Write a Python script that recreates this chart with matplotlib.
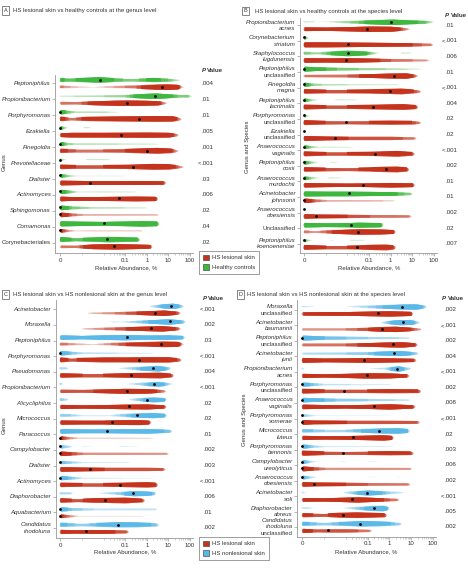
import numpy as np
import matplotlib
matplotlib.use("Agg")
import matplotlib.pyplot as plt
from matplotlib.patches import Patch
from matplotlib.transforms import blended_transform_factory

plt.rcParams["font.family"] = ["Liberation Sans", "DejaVu Sans"]

# violin outlines: (log10 relative abundance %, relative width); -4 is the "0" position
# A: HS lesional vs healthy controls, genus
a_taxa = ["Peptoniphilus", "Propionibacterium", "Porphyromonas", "Ezakiella", "Finegoldia",
          "Prevotellaceae", "Dialister", "Actinomyces", "Sphingomonas", "Comamonas",
          "Corynebacteriales"]
a_pvals = [".004", ".01", ".01", ".005", ".001", "<.001", ".03", ".006", ".02", ".04", ".02"]
a_healthy = [
    [(-4, .6), (-3.6, .4), (-3.0, .6), (-2.2, 1.0), (-1.5, .5), (-0.7, .3), (0.3, .6), (1.0, .4), (1.45, .1)],
    [(-4, .1), (-2.5, .15), (-1.0, .3), (-0.3, .7), (0.4, 1.0), (1.0, .6), (1.6, .3), (1.9, .35), (2.0, .1)],
    [(-4, .8), (-3.7, .4), (-3.3, .15), (-2.0, .15), (-1.4, .05)],
    [(-4, .6), (-3.8, .2), (-3.65, 0), (-2.95, 0), (-2.85, .12), (-2.65, .08), (-2.6, 0)],
    [(-4, .7), (-3.7, .3), (-3.3, .15), (0, .1), (0.45, .05)],
    [(-4, .35), (-3.85, .1), (-3.7, 0), (-2.85, 0), (-2.75, .1), (-1.8, .1), (-1.7, 0)],
    [(-4, .6), (-3.6, .2), (-3.3, .05), (-2.3, .05), (-1.2, .05), (-0.9, 0)],
    [(-4, .7), (-3.5, .3), (-3.2, .05), (-2.0, .1), (-0.55, .05)],
    [(-4, .8), (-3.5, .4), (-2.5, .15), (-0.12, .1)],
    [(-4, .9), (-3.0, .7), (-2.0, .6), (-1.0, .8), (-0.2, 1.0), (0.45, .8)],
    [(-4, .8), (-3.3, .4), (-2.3, .7), (-1.8, .9), (-1.0, .7), (-0.43, .6)],
]
a_healthy_median = [-2.17, 0.4, -4, -4, -4, -4, -4, -4, -4, -1.97, -1.82]
a_lesional = [
    [(-4, .35), (-3.4, .15), (-2.5, .02), (-1.8, .15), (-0.5, .4), (0.3, .8), (0.9, 1.0), (1.4, .8), (1.6, .2)],
    [(-4, .4), (-3.3, .3), (-2.5, .6), (-1.5, .9), (-0.9, 1.0), (-0.2, .9), (0.5, .7), (0.83, .2)],
    [(-4, .7), (-3.5, .3), (-2.8, .6), (-1.5, .8), (-0.5, .9), (0.5, 1.0), (1.2, .9), (1.5, .3)],
    [(-4, .6), (-3.5, .8), (-2, .8), (-1, .85), (0, .9), (1, .8), (1.37, .3)],
    [(-4, .6), (-3.3, .4), (-2, .4), (-1, .5), (-0.2, .8), (0.5, 1.0), (1.1, .7), (1.37, .2)],
    [(-4, .7), (-3.3, .5), (-2, .5), (-1, .6), (-0.3, .8), (0.3, 1.0), (1.0, .9), (1.6, .2)],
    [(-4, .8), (-3.3, .7), (-2.6, .6), (-1.5, .6), (0, .6), (0.78, .5)],
    [(-4, .8), (-3.5, .6), (-2.5, .6), (-1.5, .7), (-0.5, .8), (0.4, .7)],
    [(-4, .8), (-3.5, .4), (-3.0, .2), (0.45, .15)],
    [(-4, .6), (-3.6, .2), (-3.3, .05), (-2.6, .1), (-0.3, .1)],
    [(-4, .35), (-3.3, .3), (-2.5, .8), (-1.5, 1.0), (-0.6, .8), (0.14, .6)],
]
a_lesional_median = [0.7, -0.9, -0.35, -1.2, 0.0, -0.63, -2.63, -1.28, -4, -4, -1.5]

# B: HS lesional vs healthy controls, species
b_taxa = ["Propionibacterium\nacnes", "Corynebacterium\nstriatum", "Staphylococcus\nlugdunensis",
          "Peptoniphilus\nunclassified", "Finegoldia\nmagna", "Peptoniphilus\nlacrimalis",
          "Porphyromonas\nunclassified", "Ezakiella\nunclassified", "Anaerococcus\nvaginalis",
          "Peptoniphilus\ncoxii", "Anaerococcus\nmurdochii", "Acinetobacter\njohnsonii",
          "Anaerococcus\nobesiensis", "Unclassified", "Peptoniphilus\nkoenoeneniae"]
b_pvals = [".01", "<.001", ".006", ".01", "<.001", ".004", ".02", ".02", "<.001", ".002",
           ".01", ".01", ".002", ".02", ".007"]
b_healthy = [
    [(-4, .12), (-3.6, .1), (-3.45, 0), (-2.9, .05), (-1.5, .4), (-0.5, .8), (0.1, 1.0), (0.9, .6), (1.6, .4), (1.92, .1)],
    [(-4, .6), (-3.85, .1), (-3.75, 0)],
    [(-4, .4), (-3.4, .2), (-2.8, .5), (-2, 1.0), (-1.2, .6), (-0.6, .05), (-0.5, 0), (0.45, 0), (0.5, .1), (0.9, .08)],
    [(-4, .9), (-3.5, .6), (-2.5, .4), (-1, .25), (0.5, .15), (1.3, .05)],
    [(-4, .7), (-3.6, .3), (-3, .15), (0.3, .05)],
    [(-4, .6), (-3.6, .15), (-3.3, 0), (-2.6, 0), (-2.5, .08), (-1.6, .05)],
    [(-4, .5), (-3.85, .1), (-3.7, 0)],
    [],
    [(-4, .6), (-3.6, .2), (-3.3, .05), (-3.1, .08), (-1.85, .05)],
    [(-4, .6), (-3.6, .2), (-3.3, 0), (-2.8, 0), (-2.75, .08), (-2.5, .05)],
    [(-4, .6), (-3.6, .2), (-3.3, 0), (-2.9, 0), (-2.85, .1), (-2.3, .05)],
    [(-4, .9), (-3, .8), (-2, .8), (-1, .7), (0, .6), (0.9, .3)],
    [],
    [(-4, .8), (-3, .6), (-2, .7), (-1.5, .9), (-1, .8), (-0.46, .7)],
    [(-4, .5), (-3.8, .15), (-3.6, 0), (-2.8, 0), (-2.75, .06), (-2.55, 0), (-1.9, 0), (-1.85, .08), (-1.25, .05)],
]
b_healthy_median = [0.0, -4, -1.97, -4, -4, -4, -4, -4, -4, -4, -4, -1.92, -4, -1.82, -4]
b_lesional = [
    [(-4, .6), (-3, .5), (-2, .7), (-1, 1.0), (0, .9), (0.77, .2)],
    [(-4, .9), (-3, .9), (-2, .8), (-1, .7), (0, .6), (1, .5), (1.85, .3)],
    [(-4, .8), (-3, .7), (-2, .8), (-1, .6), (0, .4), (1, .3), (1.66, .2)],
    [(-4, .3), (-3, .35), (-2, .4), (-1, .6), (0, .9), (0.7, 1.0), (1.15, .3)],
    [(-4, .7), (-3, .5), (-2, .5), (-1, .6), (-0.3, .8), (0.5, 1.0), (1.3, .3)],
    [(-4, .8), (-3, .5), (-2, .5), (-1, .7), (0, .9), (0.6, 1.0), (1.15, .6)],
    [(-4, .8), (-3, .5), (-2, .4), (-1, .5), (0, .6), (1, .5), (1.3, .3)],
    [(-4, .9), (-3, .6), (-2, .5), (-1, .5), (0, .5), (1.08, .3)],
    [(-4, .8), (-3, .5), (-2, .5), (-1, .6), (-0.3, .8), (0.3, 1.0), (1.0, .5)],
    [(-4, .7), (-3, .5), (-2, .4), (-1, .6), (-0.3, .9), (0.3, 1.0), (0.74, .6)],
    [(-4, .8), (-3, .6), (-2, .5), (-1, .6), (0, .8), (1, .6)],
    [(-4, .8), (-3.5, .4), (-3, .2), (-1, .15), (0.08, .1)],
    [(-4, .8), (-3.4, .6), (-2, .5), (-1, .4), (0, .4), (0.85, .3)],
    [(-4, .4), (-3.5, .2), (-2.5, .6), (-1.5, 1.0), (-0.5, .9), (0.12, .6)],
    [(-4, .8), (-3, .5), (-2, .5), (-1.5, .6), (-0.8, .9), (-0.2, 1.0), (0.12, .6)],
]
b_lesional_median = [-1.08, -1.97, -2.05, 0.15, -0.05, -0.82, -2.08, -2.58, -0.74, -0.23,
                     -1.28, -4, -3.46, -1.5, -1.55]

# C: HS lesional vs HS nonlesional, genus
c_taxa = ["Acinetobacter", "Moraxella", "Peptoniphilus", "Porphyromonas", "Pseudomonas",
          "Propionibacterium", "Alicycliphilus", "Micrococcus", "Paracoccus", "Campylobacter",
          "Dialister", "Actinomyces", "Diaphorobacter", "Aquabacterium", "Candidatus\nrhodoluna"]
c_pvals = ["<.001", ".002", ".03", "<.001", ".004", "<.001", ".02", ".02", ".01", ".002",
           ".003", "<.001", ".006", ".01", ".002"]
c_nonlesional = [
    [(0.14, .1), (0.5, .4), (0.9, .8), (1.2, 1.0), (1.6, .3)],
    [(-1.65, .1), (-1.2, .05), (-0.5, .3), (0.3, .6), (1.0, 1.0), (1.68, .4)],
    [(-4, .8), (-3, .5), (-2, .8), (-1, 1.0), (0, .7), (1, .8), (1.65, .5)],
    [(-4, .8), (-3.5, .4), (-3, .2), (-1, .1), (0.26, .05)],
    [(-4, .3), (-3.7, .2), (-3.6, 0), (-1.3, 0), (-1.25, .05), (-0.5, .4), (0, .7), (0.5, 1.0), (1.03, .3)],
    [(-4, .3), (-3.85, 0), (-0.9, 0), (-0.86, .05), (-0.3, .3), (0.2, .6), (0.5, .8), (0.8, .5), (1.14, .1)],
    [(-4, .4), (-3.7, .2), (-3.6, 0), (-0.8, 0), (-0.78, .1), (-0.2, .5), (0.3, .8), (0.83, .5)],
    [(-4, .4), (-3.5, .3), (-3, .1), (-1.7, .1), (-1, .4), (-0.3, .7), (0.3, .9), (0.83, .5)],
    [(-4, .8), (-3, .6), (-2, .6), (-1, .7), (0, .8), (1.06, .4)],
    [(-4, .5), (-3.6, .2), (-3.4, 0), (-3.0, 0), (-2.95, .06), (-2.4, 0), (-1.3, 0), (-1.25, .06), (-0.5, .04)],
    [(-4, .5), (-3.5, .3), (-3, .1), (-0.86, .05)],
    [(-4, .7), (-3.5, .4), (-3, .1), (-1.2, .05), (0.2, .05)],
    [(-4, .3), (-3.5, .2), (-3.4, 0), (-2.2, 0), (-2.17, .05), (-1.2, .4), (-0.6, .9), (0, .7), (0.34, .4)],
    [(-4, .7), (-3.5, .4), (-2.5, .2), (-1, .2), (0.37, .2)],
    [(-4, .6), (-3, .3), (-2, .6), (-1.3, .9), (-0.5, .8), (0.45, .4)],
]
c_nonlesional_median = [1.14, 1.06, -0.9, -4, 0.29, 0.34, 0.03, -0.43, -1.86, -4, -4, -4,
                        -0.63, -4, -1.35]
c_lesional = [
    [(-2.7, .1), (-1.5, .3), (-0.5, .5), (0.3, .8), (0.8, 1.0), (1.45, .4)],
    [(-2.97, .1), (-2, .3), (-1, .5), (0, .8), (0.7, 1.0), (1.45, .4)],
    [(-4, .4), (-3.3, .2), (-2.5, .05), (-2, .2), (-1, .5), (0, .7), (0.7, 1.0), (1.4, .9), (1.6, .3)],
    [(-4, .8), (-3.5, .4), (-3, .6), (-2, .8), (-1, .8), (0, .9), (1, .9), (1.5, .4)],
    [(-4, .7), (-3, .5), (-2, .5), (-1, .7), (0, .9), (0.6, 1.0), (1.14, .5)],
    [(-4, .5), (-3, .4), (-2, .6), (-1, .9), (0, .8), (0.78, .3)],
    [(-4, .7), (-3, .5), (-2, .6), (-1, .8), (0, .9), (0.8, .5)],
    [(-4, .7), (-3, .6), (-2, .6), (-1.5, .8), (-0.8, .9), (-0.3, .9), (0.09, .6)],
    [(-4, .6), (-3.6, .3), (-3.2, .1), (-1, .1), (0.2, .05)],
    [(-4, .8), (-3.5, .5), (-3, .3), (-1, .3), (0.9, .25)],
    [(-4, .8), (-3, .6), (-2, .5), (-1, .5), (0, .5), (0.75, .4)],
    [(-4, .7), (-3, .5), (-2, .5), (-1, .7), (0, .9), (0.4, .7)],
    [(-4, .7), (-3.2, .4), (-2.5, .7), (-1.9, .8), (-1, 1.0), (-0.2, .5)],
    [(-4, .6), (-3.6, .3), (-3.2, .05), (-2.3, .05), (-0.25, .05)],
    [(-4, .7), (-3.3, .5), (-2.8, .6), (-2, .6), (-0.94, .4)],
]
c_lesional_median = [0.37, 0.18, 0.68, -0.37, -0.75, -0.92, -0.82, -1.63, -4, -4, -2.63,
                     -1.25, -1.94, -4, -2.82]

# D: HS lesional vs HS nonlesional, species
d_taxa = ["Moraxella\nunclassified", "Acinetobacter\nbaumannii", "Peptoniphilus\nunclassified",
          "Acinetobacter\njunii", "Propionibacterium\nacnes", "Porphyromonas\nunclassified",
          "Anaerococcus\nvaginalis", "Porphyromonas\nsomerae", "Micrococcus\nluteus",
          "Porphyromonas\nbennonis", "Campylobacter\nureolyticus", "Anaerococcus\nobesiensis",
          "Acinetobacter\nsoli", "Diaphorobacter\nabreus", "Candidatus\nrhodoluna\nunclassified"]
d_pvals = [".002", "<.001", ".002", ".004", "<.001", ".002", ".008", "<.001", ".02", ".003",
           ".006", ".002", "<.001", ".005", ".002"]
d_nonlesional = [
    [(-4, .15), (-3.5, .05), (-3.4, 0), (-1.95, 0), (-1.92, .05), (-1, .3), (0, .6), (0.6, .9), (1.2, 1.0), (1.62, .3)],
    [(-0.38, .1), (0, .5), (0.5, 1.0), (1, .8), (1.3, .2)],
    [(-4, .9), (-3.5, .7), (-3, .5), (-2, .4), (-1, .3), (0, .25), (0.85, .15)],
    [(-4, .2), (-3, .25), (-2, .3), (-1, .4), (0, .8), (0.5, .9), (1.23, .3)],
    [(-4, .2), (-3.9, 0), (-0.9, 0), (-0.85, .05), (-0.2, .2), (0.2, .7), (0.4, 1.0), (0.7, .4), (0.92, .2)],
    [(-4, .7), (-3.5, .4), (-3, .15), (-1, .1), (0, .05)],
    [(-4, .8), (-3.5, .6), (-2.5, .4), (-1, .3), (0.85, .15)],
    [(-4, .4), (-3.7, .2), (-3.4, .05), (-1, .05), (0, .02)],
    [(-4, .5), (-3, .3), (-2, .3), (-1, .6), (-0.3, .9), (0.4, 1.0), (0.82, .6)],
    [(-4, .7), (-3.5, .3), (-3, .1), (0.08, .05)],
    [(-4, .6), (-3.6, .2), (-3.3, 0), (-2.3, 0), (-2.2, .06), (-1.9, 0), (-1.0, 0), (-0.9, .05), (-0.4, 0)],
    [(-4, .6), (-3.6, .2), (-3.3, 0), (-1.0, 0), (-0.9, .05), (-0.5, 0), (0.3, 0), (0.35, .05), (0.5, 0)],
    [(-4, .2), (-3.8, 0), (-2.1, 0), (-2.08, .1), (-1.5, .5), (-1, .9), (-0.5, .6), (0, .3), (0.6, .1)],
    [(-4, .2), (-3.6, .1), (-3.5, 0), (-2.1, 0), (-2.08, .05), (-1.2, .5), (-0.7, .9), (-0.3, 1.0), (-0.1, .5)],
    [(-4, .6), (-3, .3), (-2, .6), (-1.3, 1.0), (-0.5, .8), (0.46, .3)],
]
d_nonlesional_median = [0.58, 0.62, -4, 0.2, 0.34, -4, -4, -4, -0.46, -4, -4, -4, -1.03, -0.7, -1.35]
d_lesional = [
    [(-4, .5), (-3, .6), (-2, .6), (-1, .8), (0, 1.0), (0.97, .7)],
    [(-4, .3), (-3, .3), (-2, .3), (-1, .5), (-0.3, .9), (0.3, 1.0), (1, .5), (1.38, .2)],
    [(-4, .4), (-3, .4), (-2, .4), (-1, .6), (0, .9), (0.6, 1.0), (1.18, .5)],
    [(-4, .9), (-3, .6), (-2, .7), (-1, .9), (0, .7), (1.12, .5)],
    [(-4, .7), (-3, .5), (-2, .7), (-1, 1.0), (0, .9), (0.8, .5)],
    [(-4, .8), (-3, .5), (-2, .5), (-1, .5), (0, .6), (1.34, .5)],
    [(-4, .8), (-3, .6), (-2, .5), (-1, .7), (0, 1.0), (1.08, .5)],
    [(-4, .9), (-3.5, .6), (-2, .5), (0, .5), (1.28, .4)],
    [(-4, .7), (-3, .5), (-2, .6), (-1, .8), (-0.3, 1.0), (0.08, .7)],
    [(-4, .9), (-3, .5), (-2, .4), (-1, .5), (0, .6), (1, .5)],
    [(-4, .9), (-3.5, .5), (-3, .3), (-1, .3), (0.92, .25)],
    [(-4, .8), (-3.4, .6), (-2, .5), (-1, .4), (0.85, .3)],
    [(-4, .6), (-3, .5), (-2, .8), (-1.5, 1.0), (-0.8, .7), (0, .4), (0.34, .3)],
    [(-4, .6), (-3, .4), (-2.3, .8), (-1.5, 1.0), (-0.8, .8), (-0.23, .6)],
    [(-4, .7), (-3.3, .4), (-2.8, .5), (-2, .5), (-0.92, .3)],
]
d_lesional_median = [-0.54, -0.35, 0.17, -1.15, -1.05, -2.1, -0.72, -4, -1.65, -2.15, -4,
                     -3.46, -1.72, -2.15, -2.82]

RED = "#c5331c"
GREEN = "#3db73d"
BLUE = "#5bb9e9"
TXT = "#333333"
W, H = 468, 570
FS = 4.4

fig = plt.figure(figsize=(W / 100, H / 100), dpi=100)

LEVELS = [0.0, 0.05, 0.12, 0.2, 0.3, 0.4, 0.5]


def alpha_of(w):
    return min(1.0, 0.2 + 0.8 * w / 0.5)


def draw_violin(ax, knots, yc, color, hmax=0.17):
    if not knots:
        return
    xs = [knots[0][0] - 0.05] + [k[0] for k in knots] + [knots[-1][0] + 0.1]
    ws = [0] + [k[1] for k in knots] + [0]
    grid = np.arange(xs[0], xs[-1] + 1e-9, 0.01)
    w = np.interp(grid, xs, ws)
    k = 7
    w = np.convolve(np.pad(w, k // 2, mode="edge"), np.ones(k) / k, mode="valid")
    h = hmax * np.power(np.clip(w, 0, None), 0.7)
    x = 10 ** grid
    prev = 0.0
    for lv in LEVELS:
        target = alpha_of(lv)
        a = 1 - (1 - target) / (1 - prev) if prev < 1 else 0
        mask = w > max(lv, 0.004)
        if mask.any() and a > 0:
            ax.fill_between(x, yc - h, yc + h, where=mask, color=color, alpha=a, lw=0)
        prev = target


def px_ax(left, top, right, bottom, x0, x100, r0, step, n):
    ax = fig.add_axes([left / W, 1 - bottom / H, (right - left) / W, (bottom - top) / H])
    dec = (x100 - x0) / 6
    ax.set_xscale("log")
    ax.set_xlim(10 ** (-4 - (x0 - left) / dec), 10 ** (2 + (right - x100) / dec))
    ax.set_ylim((bottom - r0) / step, (top - r0) / step)
    for s in ["top", "right"]:
        ax.spines[s].set_visible(False)
    for s in ["left", "bottom"]:
        ax.spines[s].set_color("#999999")
        ax.spines[s].set_linewidth(0.6)
    ax.set_xticks([1e-4, 0.1, 1, 10, 100], ["0", "0.1", "1", "10", "100"])
    minor = [1e-3, 1e-2] + [m * 10.0 ** e for e in range(-2, 2) for m in range(2, 10)]
    ax.set_xticks(minor, minor=True)
    ax.set_xticklabels([], minor=True)
    ax.set_yticks(range(n))
    ax.set_yticklabels([])
    ax.tick_params(axis="x", which="major", length=2, width=0.5, color="#999999",
                   labelsize=FS, labelcolor=TXT, pad=1.2)
    ax.tick_params(axis="x", which="minor", length=1.2, width=0.4, color="#aaaaaa")
    ax.tick_params(axis="y", length=2, width=0.5, color="#999999")
    ax.patch.set_visible(False)
    return ax


def panel(ax, taxa, top_v, top_m, bot_v, bot_m, top_col, pvals, p_dot_px):
    for i in range(len(taxa)):
        draw_violin(ax, top_v[i], i - 0.22, top_col)
        draw_violin(ax, bot_v[i], i + 0.22, RED)
        ax.plot(10 ** top_m[i], i - 0.22, "o", ms=2.0, color="black", mec="none", zorder=5)
        ax.plot(10 ** bot_m[i], i + 0.22, "o", ms=2.0, color="black", mec="none", zorder=5)
        lines = taxa[i].split("\n")
        n = len(lines)
        for k, line in enumerate(lines):
            upright = line.lower() == "unclassified" or line == "Corynebacteriales"
            ax.annotate(line, xy=(0, i), xycoords=ax.get_yaxis_transform(),
                        xytext=(-3.2, -(k - (n - 1) / 2) * 4.6), textcoords="offset points",
                        ha="right", va="center", fontsize=FS, color=TXT,
                        style="normal" if upright else "italic")
        tr = blended_transform_factory(fig.transFigure, ax.transData)
        p = pvals[i]
        if p.startswith("<"):
            ax.text(p_dot_px / W, i, "<", transform=tr, ha="right", va="center",
                    fontsize=FS, color=TXT)
            p = p[1:]
        ax.text(p_dot_px / W, i, p, transform=tr, ha="left", va="center",
                fontsize=FS, color=TXT)


def ftext(x, y, s, **kw):
    kw.setdefault("fontsize", FS)
    kw.setdefault("color", TXT)
    return fig.text(x / W, 1 - y / H, s, **kw)


def header(letter, x_box, x_txt, y, title, x_p, y_p, x_lab, y_lab, x_ylab, y_ylab, ylab):
    ftext(x_box, y, letter, ha="center", va="center", fontsize=4.0,
          bbox=dict(boxstyle="square,pad=0.35", fc="white", ec="#555555", lw=0.5))
    ftext(x_txt, y, title, ha="left", va="center", fontsize=4.3)
    ftext(x_p, y_p, "P", ha="left", va="center", style="italic", weight="bold")
    ftext(x_p + 5.5, y_p, "Value", ha="left", va="center", weight="bold")
    ftext(x_lab, y_lab, "Relative Abundance, %", ha="center", va="center", fontsize=4.3)
    ftext(x_ylab, y_ylab, ylab, ha="center", va="center", rotation=90, fontsize=4.3)


axA = px_ax(55.3, 75, 193, 253.3, 60.3, 190, 83.3, 15.95, len(a_taxa))
panel(axA, a_taxa, a_healthy, a_healthy_median, a_lesional, a_lesional_median, GREEN, a_pvals, 201.7)
header("A", 5.5, 13, 10.7, "HS lesional skin vs healthy controls at the genus level",
       201.7, 71, 125.7, 268, 4.5, 162, "Genus")

axB = px_ax(300, 18, 437, 253.3, 304, 434, 25.3, 15.6, len(b_taxa))
panel(axB, b_taxa, b_healthy, b_healthy_median, b_lesional, b_lesional_median, GREEN, b_pvals, 445)
header("B", 245.5, 255, 11, "HS lesional skin vs healthy controls at the species level",
       445, 15.7, 369, 268, 247, 147, "Genus and Species")

axC = px_ax(55.7, 300, 193, 538.3, 60.3, 190, 309.3, 15.62, len(c_taxa))
panel(axC, c_taxa, c_nonlesional, c_nonlesional_median, c_lesional, c_lesional_median, BLUE, c_pvals, 203)
header("C", 5.5, 13, 294.7, "HS lesional skin vs HS nonlesional skin at the genus level",
       202.7, 299, 125.3, 551.5, 4.5, 425, "Genus")

axD = px_ax(297.3, 300, 436, 536.5, 302.3, 433, 310, 15.5, len(d_taxa))
panel(axD, d_taxa, d_nonlesional, d_nonlesional_median, d_lesional, d_lesional_median, BLUE, d_pvals, 444.7)
header("D", 240.5, 247, 294.7, "HS lesional skin vs HS nonlesional skin at the species level",
       442.3, 299, 366.5, 551.5, 244.5, 420, "Genus and Species")

for y_top, lab2, col2 in [(251, "Healthy controls", GREEN), (537, "HS nonlesional skin", BLUE)]:
    handles = [Patch(facecolor=RED, edgecolor="#333333", lw=0.4, label="HS lesional skin"),
               Patch(facecolor=col2, edgecolor="#333333", lw=0.4, label=lab2)]
    leg = fig.legend(handles=handles, loc="upper left", bbox_to_anchor=(199 / W, 1 - y_top / H),
                     fontsize=4.3, frameon=True, fancybox=False, edgecolor="#777777",
                     framealpha=1, handlelength=1.1, handleheight=1.1, borderpad=0.6,
                     labelspacing=0.6, handletextpad=0.5, borderaxespad=0)
    leg.get_frame().set_linewidth(0.5)
    for t in leg.get_texts():
        t.set_color(TXT)

fig.savefig("out.png", dpi=100)
